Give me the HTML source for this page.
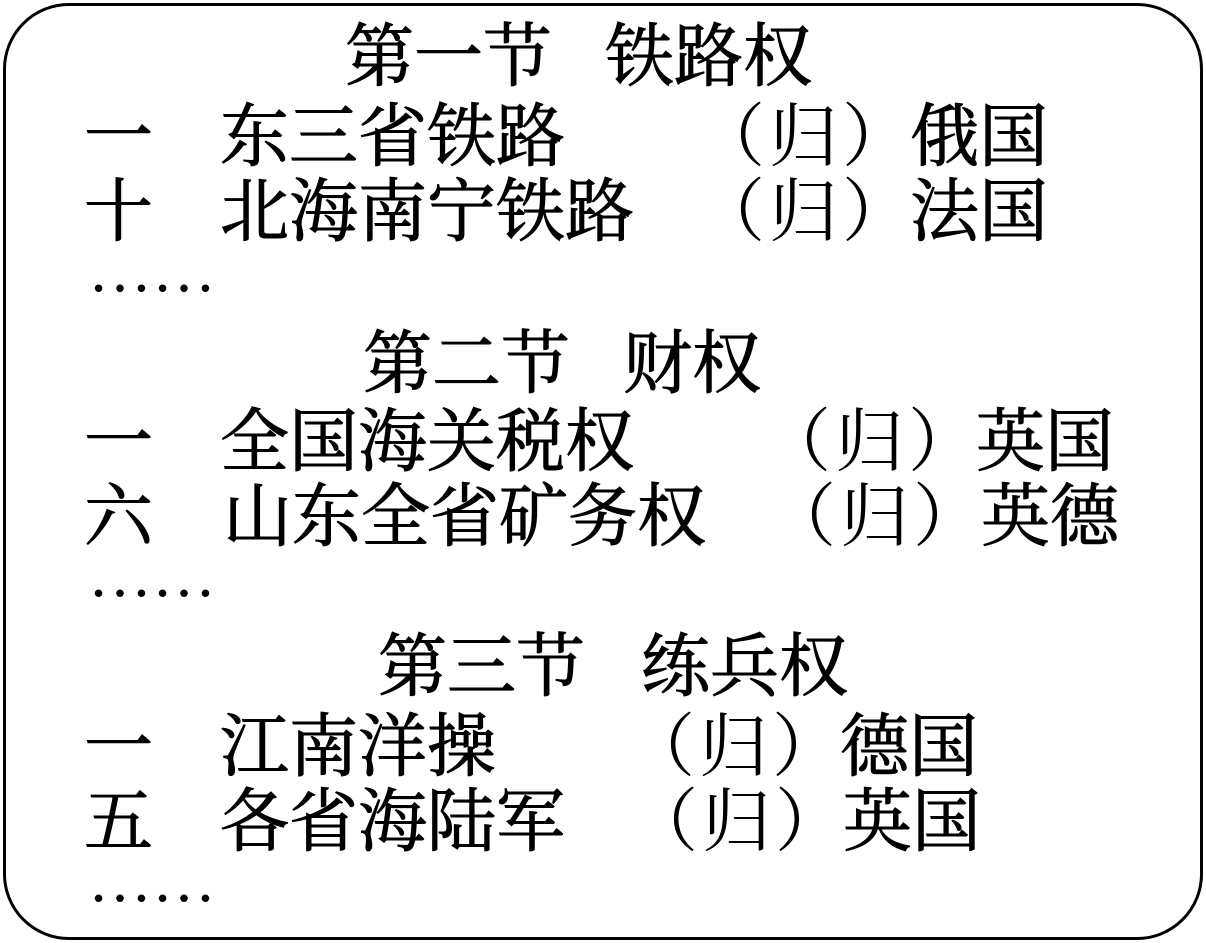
<!DOCTYPE html>
<html><head><meta charset="utf-8"><style>
html,body{margin:0;padding:0;background:#fff}
#c{position:relative;width:1206px;height:943px;overflow:hidden;background:#fff}
.box{position:absolute;left:3px;top:3px;width:1194px;height:931px;border:3px solid #000;border-radius:66px}
.t{position:absolute;font-family:"Noto Serif CJK SC",serif;font-size:69px;line-height:69px;color:#000;white-space:nowrap;font-weight:400;-webkit-text-stroke:1px #000}
.p{position:absolute;font-family:"Noto Serif CJK SC",serif;font-size:69px;line-height:69px;color:#000;white-space:nowrap;font-weight:400;letter-spacing:4px}
.d{position:absolute;font-family:"Liberation Serif",serif;font-size:64px;line-height:64px;white-space:nowrap}
</style></head><body><div id="c">
<div class="box"></div>

<span class="t" style="left:345px;top:16px">第一节</span>
<span class="t" style="left:605px;top:16px">铁路权</span>

<span class="t" style="left:84px;top:96px">一</span>
<span class="t" style="left:220px;top:96px">东三省铁路</span>
<span class="p" style="left:696px;top:96px">（归）</span>
<span class="t" style="left:910px;top:96px">俄国</span>

<span class="t" style="left:84px;top:171px">十</span>
<span class="t" style="left:220px;top:171px">北海南宁铁路</span>
<span class="p" style="left:696px;top:171px">（归）</span>
<span class="t" style="left:910px;top:171px">法国</span>

<span class="d" style="left:88px;top:238px">……</span>

<span class="t" style="left:363px;top:323px">第二节</span>
<span class="t" style="left:623px;top:323px">财权</span>

<span class="t" style="left:84px;top:401px">一</span>
<span class="t" style="left:220px;top:401px">全国海关税权</span>
<span class="p" style="left:762px;top:401px">（归）</span>
<span class="t" style="left:976px;top:401px">英国</span>

<span class="t" style="left:84px;top:476px">六</span>
<span class="t" style="left:223px;top:476px">山东全省矿务权</span>
<span class="p" style="left:767px;top:476px">（归）</span>
<span class="t" style="left:981px;top:476px">英德</span>

<span class="d" style="left:88px;top:543px">……</span>

<span class="t" style="left:378px;top:626px">第三节</span>
<span class="t" style="left:641px;top:626px">练兵权</span>

<span class="t" style="left:84px;top:706px">一</span>
<span class="t" style="left:220px;top:706px">江南洋操</span>
<span class="p" style="left:626px;top:706px">（归）</span>
<span class="t" style="left:840px;top:706px">德国</span>

<span class="t" style="left:84px;top:781px">五</span>
<span class="t" style="left:220px;top:781px">各省海陆军</span>
<span class="p" style="left:629px;top:781px">（归）</span>
<span class="t" style="left:843px;top:781px">英国</span>

<span class="d" style="left:88px;top:848px">……</span>
</div></body></html>
